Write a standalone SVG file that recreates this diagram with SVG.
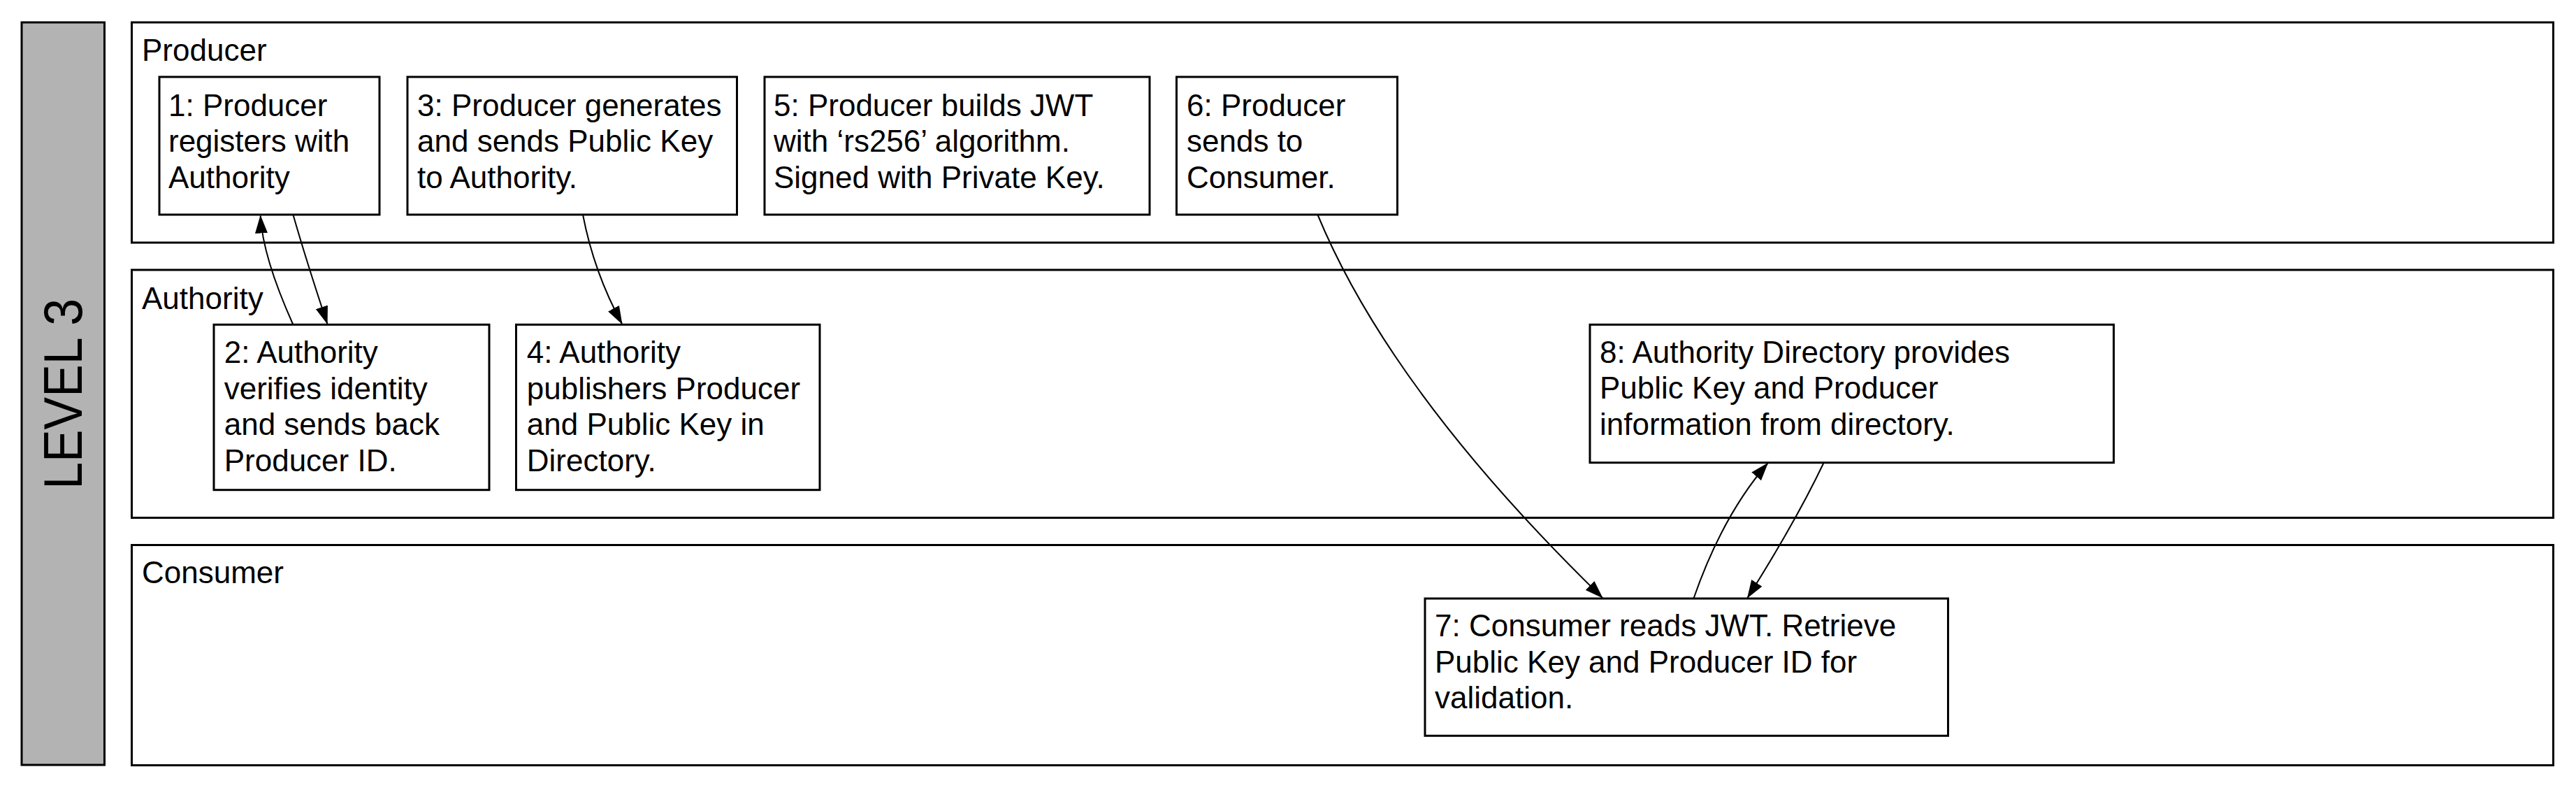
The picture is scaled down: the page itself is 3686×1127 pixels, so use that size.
<svg xmlns="http://www.w3.org/2000/svg" width="3686" height="1127" viewBox="0 0 3686 1127">
<style>
.lane{fill:#ffffff;stroke:#000000;stroke-width:3}
.box{fill:#ffffff;stroke:#000000;stroke-width:3}
.bar{fill:#b3b3b3;stroke:#000000;stroke-width:3}
text{font-family:"Liberation Sans",Arial,Helvetica,sans-serif;font-size:44px;fill:#000000}
text.big{font-size:77px}
.conn{fill:none;stroke:#000000;stroke-width:2}
</style>
<defs>
<marker id="arrow" markerUnits="userSpaceOnUse" viewBox="0 0 26 18" refX="25" refY="9" markerWidth="26" markerHeight="18" orient="auto">
<path d="M0,0 L26,9 L0,18 z" fill="#000000"/>
</marker>
</defs>
<rect width="3686" height="1127" fill="#ffffff"/>
<g id="level">
<rect class="bar" x="31" y="32" width="118.5" height="1062"/>
<text class="big" x="116.7" y="563.3" transform="rotate(-90 116.7 563.3)" text-anchor="middle" textLength="273" lengthAdjust="spacingAndGlyphs">LEVEL 3</text>
</g>
<g id="lane-producer">
<rect class="lane" x="188.5" y="32" width="3465" height="315"/>
<text x="203" y="86.7">Producer</text>
</g>
<g id="lane-authority">
<rect class="lane" x="188.5" y="386" width="3465" height="354.5"/>
<text x="203" y="441.7">Authority</text>
</g>
<g id="lane-consumer">
<rect class="lane" x="188.5" y="779.5" width="3465" height="315"/>
<text x="203" y="834.3">Consumer</text>
</g>
<g id="node1">
<rect class="box" x="228" y="110" width="315" height="197"/>
<text x="241"><tspan x="241" y="165.7">1: Producer</tspan><tspan x="241" y="217.2">registers with</tspan><tspan x="241" y="268.7">Authority</tspan></text>
</g>
<g id="node3">
<rect class="box" x="583" y="110" width="471.5" height="197"/>
<text x="597"><tspan x="597" y="165.7">3: Producer generates</tspan><tspan x="597" y="217.2">and sends Public Key</tspan><tspan x="597" y="268.7">to Authority.</tspan></text>
</g>
<g id="node5">
<rect class="box" x="1094" y="110" width="551" height="197"/>
<text x="1107"><tspan x="1107" y="165.7">5: Producer builds JWT</tspan><tspan x="1107" y="217.2">with ‘rs256’ algorithm.</tspan><tspan x="1107" y="268.7">Signed with Private Key.</tspan></text>
</g>
<g id="node6">
<rect class="box" x="1683.5" y="110" width="316" height="197"/>
<text x="1698"><tspan x="1698" y="165.7">6: Producer</tspan><tspan x="1698" y="217.2">sends to</tspan><tspan x="1698" y="268.7">Consumer.</tspan></text>
</g>
<g id="node2">
<rect class="box" x="306" y="464.3" width="394" height="236.4"/>
<text x="320.7"><tspan x="320.7" y="519.3">2: Authority</tspan><tspan x="320.7" y="570.8">verifies identity</tspan><tspan x="320.7" y="622.3">and sends back</tspan><tspan x="320.7" y="673.8">Producer ID.</tspan></text>
</g>
<g id="node4">
<rect class="box" x="738.5" y="464.3" width="434.5" height="236.4"/>
<text x="753.8"><tspan x="753.8" y="519.3">4: Authority</tspan><tspan x="753.8" y="570.8">publishers Producer</tspan><tspan x="753.8" y="622.3">and Public Key in</tspan><tspan x="753.8" y="673.8">Directory.</tspan></text>
</g>
<g id="node8">
<rect class="box" x="2275" y="464.3" width="749.5" height="197.4"/>
<text x="2289"><tspan x="2289" y="518.8">8: Authority Directory provides</tspan><tspan x="2289" y="570.3">Public Key and Producer</tspan><tspan x="2289" y="621.8">information from directory.</tspan></text>
</g>
<g id="node7">
<rect class="box" x="2039" y="856" width="748.5" height="196.3"/>
<text x="2053"><tspan x="2053" y="910.3">7: Consumer reads JWT. Retrieve</tspan><tspan x="2053" y="961.8">Public Key and Producer ID for</tspan><tspan x="2053" y="1013.3">validation.</tspan></text>
</g>
<g id="connectors">
<path class="conn" d="M419.4,307 Q438,372 468.3,463" marker-end="url(#arrow)"/>
<path class="conn" d="M419.3,464 Q375.7,367 372.7,308.5" marker-end="url(#arrow)"/>
<path class="conn" d="M834,307 Q850,390 890,463" marker-end="url(#arrow)"/>
<path class="conn" d="M1885.4,307 Q1990,560 2293,855" marker-end="url(#arrow)"/>
<path class="conn" d="M2423.4,856 Q2464.5,737.5 2529.5,662.5" marker-end="url(#arrow)"/>
<path class="conn" d="M2610,661 Q2570,745 2500.5,855" marker-end="url(#arrow)"/>
</g>
</svg>
